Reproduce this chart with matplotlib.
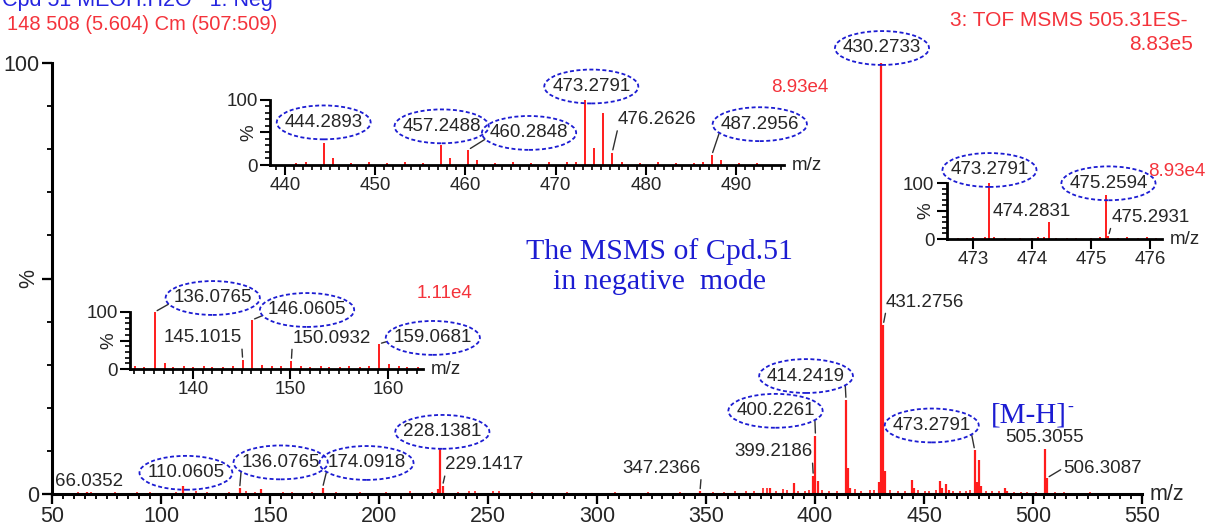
import matplotlib
matplotlib.use("Agg")
import matplotlib.pyplot as plt
from matplotlib.path import Path
from matplotlib.transforms import Affine2D
from matplotlib.ticker import MultipleLocator

plt.rcParams["font.family"] = ["Liberation Sans", "DejaVu Sans"]

W, H = 1210, 529
RED = "#ff1c1c"
TXT_RED = "#f4333b"
BLUE = "#1c1cd2"
INK = "#262626"

# full scan, % of 8.83e5
main_mz = [66.0352, 110.0605, 136.0765, 146.06, 174.0918, 227.13, 228.1381, 229.1417,
           347.2366, 379.2, 390.2, 399.2186, 400.2261, 401.23, 414.2419, 415.24, 416.25,
           429.27, 430.2733, 431.2756, 432.28, 444.2893, 445.29, 457.2488, 458.25,
           460.2848, 461.29, 473.2791, 474.28, 475.2594, 476.2626, 487.2956, 488.30,
           505.3055, 506.3087]
main_int = [0.5, 1.9, 1.3, 1.1, 1.4, 1.2, 10.7, 1.9,
            0.6, 1.3, 2.6, 4.2, 13.5, 3.1, 21.8, 6.0, 1.5,
            2.9, 100, 39.2, 5.3, 3.3, 1.5, 3.0, 1.5,
            2.3, 1.0, 10.1, 2.9, 7.9, 1.9, 1.5, 0.8,
            10.4, 3.7]

# baseline chatter
noise_mz = [57.0, 62.1, 68.0, 73.1, 79.0, 84.1, 89.0, 95.1, 101.0, 107.1,
            116.1, 121.0, 125.1, 131.1, 139.1, 143.1, 150.1, 156.1, 160.1, 165.1,
            169.1, 180.1, 185.1, 191.1, 197.1, 203.1, 209.1, 214.1, 219.1, 224.1,
            236.1, 241.1, 244.1, 252.2, 255.2, 262.2, 270.2, 278.2, 286.2, 293.2,
            301.2, 308.2, 316.2, 323.2, 331.2, 338.2, 344.2, 353.2, 358.2, 363.2,
            368.2, 372.2, 376.2, 378.2, 382.2, 385.2, 387.2, 392.2, 395.2, 397.2,
            403.2, 406.2, 410.2, 418.2, 421.2, 425.2, 427.2, 434.3, 438.3, 441.3,
            447.3, 450.3, 452.3, 455.3, 463.3, 466.3, 469.3, 471.3, 478.3, 481.3,
            484.3, 491.3, 494.3, 497.3, 501.3, 510.3, 514.3, 519.3, 526.3, 533.4,
            541.4, 547.4]
noise_int = [0.3, 0.4, 0.5, 0.3, 0.4, 0.3, 0.5, 0.4, 0.3, 0.4,
             0.6, 0.4, 0.3, 0.5, 0.6, 0.4, 0.3, 0.5, 0.4, 0.3,
             0.5, 0.4, 0.3, 0.4, 0.3, 0.5, 0.3, 0.6, 0.3, 0.4,
             0.5, 0.7, 0.8, 0.7, 0.6, 0.3, 0.5, 0.3, 0.4, 0.3,
             0.3, 0.4, 0.3, 0.5, 0.3, 0.4, 0.3, 0.5, 0.4, 0.6,
             0.6, 0.8, 1.3, 1.5, 0.7, 1.1, 0.9, 0.8, 0.6, 1.0,
             0.9, 0.7, 0.6, 1.2, 0.8, 0.9, 1.0, 0.9, 0.7, 0.8,
             1.0, 0.8, 0.7, 0.9, 0.6, 0.8, 0.7, 0.9, 0.7, 0.8,
             0.6, 0.5, 0.4, 0.5, 0.4, 0.5, 0.4, 0.3, 0.4, 0.3,
             0.3, 0.3]

# zoom 440-495, % of 8.93e4
hi_mz = [441.2, 442.3, 444.2893, 445.29, 447.3, 449.3, 451.3, 453.3, 455.3, 457.2488,
         458.25, 460.2848, 461.29, 463.3, 465.3, 467.3, 469.3, 471.3, 472.3, 473.2791,
         474.28, 475.2594, 476.2626, 477.3, 479.3, 481.3, 483.3, 485.3, 486.3, 487.2956,
         488.30, 490.3, 492.3]
hi_int = [3, 4, 33, 11, 3, 4, 3, 5, 3, 30,
          11, 23, 8, 3, 4, 3, 4, 4, 5, 100,
          26, 79, 19, 5, 3, 4, 3, 3, 4, 15,
          8, 3, 3]

# zoom 473-476, % of 8.93e4
iso_mz = [472.75, 472.9, 473.0, 473.2, 473.2791, 473.35, 473.55, 473.8, 474.0, 474.1,
          474.2, 474.2831, 474.4, 474.6, 474.75, 475.0, 475.15, 475.2594, 475.2931, 475.45,
          475.6, 475.8, 475.95, 476.1]
iso_int = [2, 2, 3, 4, 100, 3, 2, 2, 2, 3,
           4, 30, 2, 2, 2, 2, 3, 78, 5, 2,
           3, 2, 3, 2]

# zoom 134-164, % of 1.11e4
lo_mz = [134.1, 135.0, 136.0765, 137.08, 138.0, 139.1, 140.0, 141.1, 142.0, 143.1,
         144.1, 145.1015, 146.0605, 147.07, 148.1, 149.0, 150.0932, 151.1, 152.0, 153.1,
         154.0, 155.1, 156.0, 157.1, 158.1, 159.0681, 160.07, 161.1, 162.0, 163.1]
lo_int = [6, 4, 100, 10, 4, 5, 3, 5, 4, 3,
          5, 16, 86, 7, 6, 5, 14, 5, 3, 5,
          4, 3, 5, 4, 5, 44, 8, 5, 4, 3]

# label layout: text, dx, dy (pixels), circled, leader start on text
main_labels = [
    ("66.0352", 2, 10, False, None),
    ("110.0605", 3, 13, True, None),
    ("136.0765", 41, 26, True, (0.0, 0.2)),
    ("174.0918", 44, 25, True, (0.0, 0.2)),
    ("228.1381", 2, 16, True, None),
    ("229.1417", 42, 21, False, (0.0, 0.0)),
    ("347.2366", -38, 23, False, (1.0, 0.0)),
    ("399.2186", -40, 24, False, (1.0, 0.0)),
    ("400.2261", -40, 25, True, (1.0, 0.2)),
    ("414.2419", -40, 24, True, (1.0, 0.2)),
    ("430.2733", 1, 15, True, None),
    ("431.2756", 42, 23, False, (0.0, 0.0)),
    ("473.2791", -43, 25, True, (1.0, 0.2)),
    ("505.3055", 0, 12, False, None),
    ("506.3087", 56, 10, False, (0.0, 0.5)),
]
hi_labels = [
    ("444.2893", 0, 21, True, None),
    ("457.2488", 1, 19, True, None),
    ("460.2848", 61, 17, True, (0.0, 0.3)),
    ("473.2791", 6, 13, True, None),
    ("476.2626", 45, 33, False, (0.0, 0.0)),
    ("487.2956", 48, 31, True, (0.0, 0.2)),
]
iso_labels = [
    ("473.2791", 0, 13, True, None),
    ("474.2831", -17, 11, False, None),
    ("475.2594", 2, 12, True, None),
    ("475.2931", 42, 19, False, (0.0, 0.0)),
]
lo_labels = [
    ("136.0765", 58, 14, True, (0.0, 0.3)),
    ("146.0605", 55, 10, True, (0.0, 0.3)),
    ("145.1015", -40, 22, False, (1.0, 0.0)),
    ("150.0932", 40, 23, False, (0.0, 0.0)),
    ("159.0681", 54, 6, True, (0.0, 0.4)),
]


def oval(x0, y0, width, height, mutation_size):
    # dashed ring drawn round a peak label
    a = width / 2 + 0.42 * mutation_size
    b = height / 2 + 0.45 * mutation_size
    return (Affine2D().scale(a, b)
            .translate(x0 + width / 2, y0 + height / 2)
            .transform_path(Path.unit_circle()))


def axes_px(fig, left, right, top, bottom):
    return fig.add_axes([left / W, 1 - bottom / H, (right - left) / W, (bottom - top) / H])


def spectrum_axes(ax, xlim, major, minor, lw, fs, tick_len):
    ax.set_facecolor("none")
    ax.set_xlim(*xlim)
    ax.set_ylim(0, 100)
    for s in ("top", "right"):
        ax.spines[s].set_visible(False)
    for s in ("left", "bottom"):
        ax.spines[s].set_linewidth(lw)
    ax.xaxis.set_major_locator(MultipleLocator(major))
    if minor:
        ax.xaxis.set_minor_locator(MultipleLocator(minor))
    ax.set_yticks([0, 50, 100])
    ax.set_yticklabels(["0", "%", "100"])
    ax.yaxis.set_minor_locator(MultipleLocator(10))
    pct = ax.get_yticklabels()[1]
    pct.set_rotation(90)
    pct.set_va("center")
    ax.tick_params(which="major", length=tick_len, width=lw * 0.75, labelsize=fs,
                   labelcolor=INK, pad=2)
    ax.tick_params(which="minor", length=tick_len * 0.55, width=lw * 0.6)
    ax.annotate("m/z", xy=(1, 0), xycoords="axes fraction", xytext=(8, 0),
                textcoords="offset pixels", ha="left", va="center", fontsize=fs, color=INK)


def draw_peaks(ax, mz, inten, lw):
    ax.vlines(mz, 0, inten, color=RED, lw=lw)


def label_peaks(ax, mz, inten, specs, fs):
    lookup = {f"{m:.4f}": (m, h) for m, h in zip(mz, inten)}
    for txt, dx, dy, circled, rel in specs:
        m, h = lookup[txt]
        kw = {}
        if circled:
            kw["bbox"] = dict(boxstyle=oval, fc="none", ec=BLUE, lw=1.3, ls=(0, (2.2, 1.4)))
        if rel is not None:
            kw["arrowprops"] = dict(arrowstyle="-", color="#303030", lw=1.0,
                                    relpos=rel, shrinkA=0, shrinkB=2)
        ax.annotate(txt, xy=(m, h), xytext=(dx, dy), textcoords="offset pixels",
                    ha="center", va="center", fontsize=fs, color=INK,
                    annotation_clip=False, **kw)


def scale_note(ax, txt, dx, dy, fs):
    ax.annotate(txt, xy=(1, 1), xycoords="axes fraction", xytext=(dx, dy),
                textcoords="offset pixels", ha="center", va="center", fontsize=fs,
                color=TXT_RED, annotation_clip=False)


fig = plt.figure(figsize=(W / 100, H / 100), dpi=100)

# main spectrum
ax = axes_px(fig, 52, 1142, 63, 494)
spectrum_axes(ax, (50, 550), 50, 5, 2.2, 15.5, 7)
draw_peaks(ax, noise_mz, noise_int, 1.2)
draw_peaks(ax, main_mz, main_int, 1.6)
label_peaks(ax, main_mz, main_int, main_labels, 13.5)

i505 = main_mz.index(505.3055)
ax.annotate("[M-H]", xy=(main_mz[i505], main_int[i505]), xytext=(22, 34),
            textcoords="offset pixels", ha="right", va="center", fontsize=21,
            family="Liberation Serif", color=BLUE)
ax.annotate("-", xy=(main_mz[i505], main_int[i505]), xytext=(23, 42),
            textcoords="offset pixels", ha="left", va="center", fontsize=13,
            family="Liberation Serif", color=BLUE)

ax.text(0.557, 0.527, "The MSMS of Cpd.51\nin negative  mode", transform=ax.transAxes,
        ha="center", va="center", fontsize=21.5, family="Liberation Serif",
        color=BLUE, linespacing=1.2)

# inset 440-495
ax1 = axes_px(fig, 270, 784, 99.5, 165)
spectrum_axes(ax1, (438.34, 495.3), 10, 1, 2.0, 13.5, 7)
draw_peaks(ax1, hi_mz, hi_int, 1.4)
label_peaks(ax1, hi_mz, hi_int, hi_labels, 13.5)
scale_note(ax1, "8.93e4", 16, 12, 13.5)

# inset 473-476
ax2 = axes_px(fig, 947, 1162, 183, 239)
spectrum_axes(ax2, (472.56, 476.2), 1, None, 2.0, 13.5, 7)
draw_peaks(ax2, iso_mz, iso_int, 1.4)
label_peaks(ax2, iso_mz, iso_int, iso_labels, 13.5)
scale_note(ax2, "8.93e4", 15, 11, 13.5)

# inset 134-164
ax3 = axes_px(fig, 130, 423, 312, 369)
spectrum_axes(ax3, (133.54, 163.6), 10, 1, 2.0, 13.5, 7)
draw_peaks(ax3, lo_mz, lo_int, 1.4)
label_peaks(ax3, lo_mz, lo_int, lo_labels, 13.5)
scale_note(ax3, "1.11e4", 22, 19, 13.5)

# instrument header
fig.text(2 / W, 1 - 6 / H, "Cpd 51 MEOH:H2O   1: Neg", color="#2424e0",
         fontsize=15.5, va="baseline")
fig.text(7 / W, 1 - 25 / H, "148 508 (5.604) Cm (507:509)", color=TXT_RED,
         fontsize=14.5, va="center")
fig.text(1187 / W, 1 - 21 / H, "3: TOF MSMS 505.31ES-", color=TXT_RED,
         fontsize=15, ha="right", va="center")
fig.text(1193 / W, 1 - 44 / H, "8.83e5", color=TXT_RED,
         fontsize=15, ha="right", va="center")

fig.savefig("out.png", dpi=100, facecolor="white")
